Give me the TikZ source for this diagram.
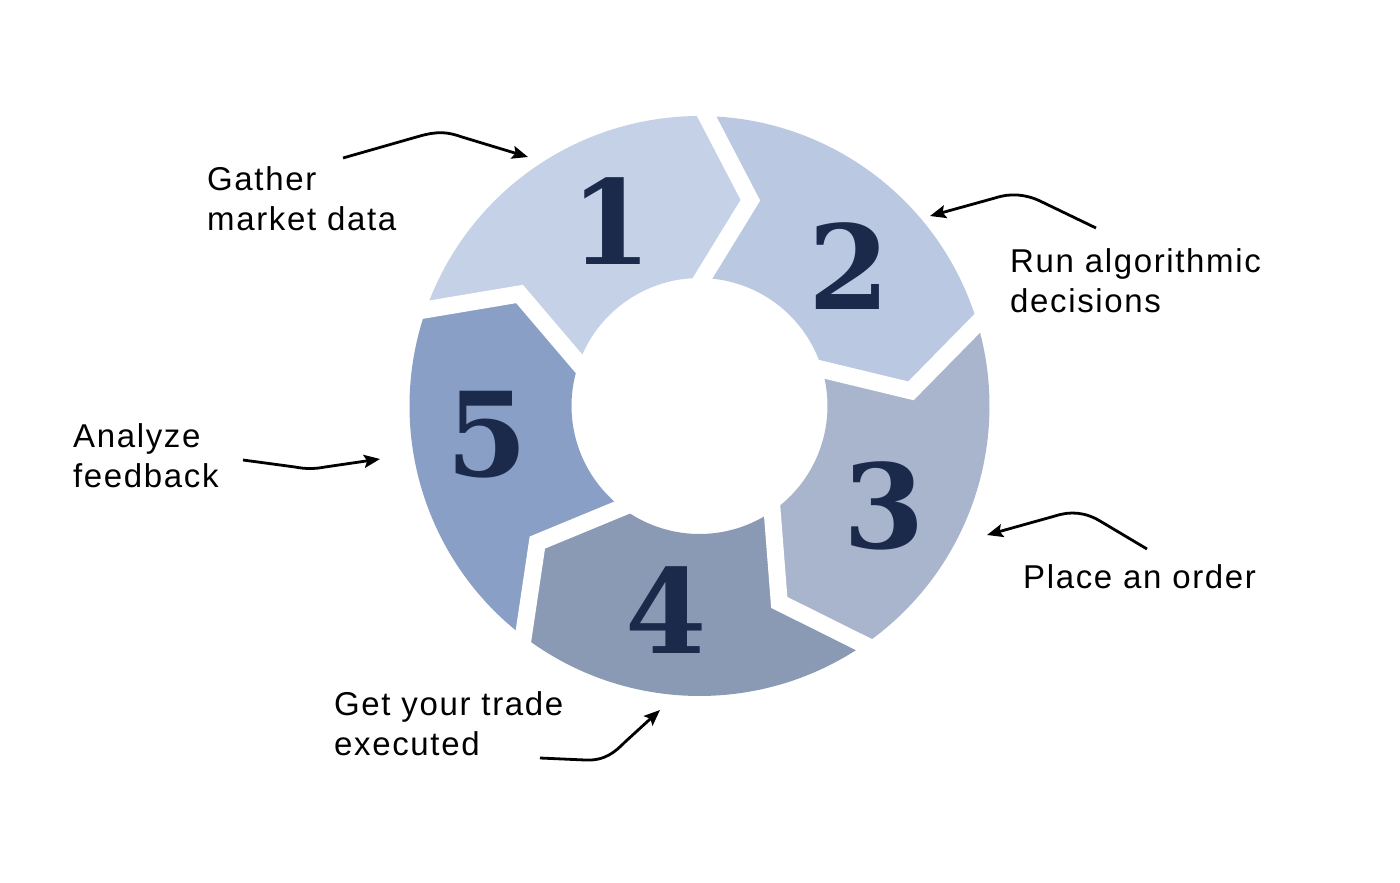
\documentclass[tikz,border=0pt]{standalone}
\usepackage{fontspec}
\setmainfont{Liberation Sans}[LetterSpace=5]
\newfontfamily\numfont{DejaVu Serif}
\usetikzlibrary{arrows.meta,calc}
\definecolor{segA}{HTML}{C5D1E7}
\definecolor{segB}{HTML}{BAC8E2}
\definecolor{segC}{HTML}{A8B5CD}
\definecolor{segD}{HTML}{8A9AB5}
\definecolor{segE}{HTML}{8A9FC5}
\definecolor{numcol}{HTML}{1B2A4B}
\newcommand\ringseg[2]{%
  \fill[#2] (#1:290) arc[start angle=#1, end angle=#1-72, radius=290]
    -- (#1-84.5:212) -- (#1-72:128)
    arc[start angle=#1-72, end angle=#1, radius=128]
    -- (#1-12.5:212) -- cycle;}
\newcommand\ringgap[1]{%
  \draw[white, line width=17pt, line join=miter, miter limit=20]
    ($(#1-12.5:212)!1.25!(#1:290)$) -- (#1-12.5:212) -- ($(#1-12.5:212)!1.2!(#1:128)$);}
\begin{document}
\begin{tikzpicture}[x=1pt,y=-1pt,
  lbl/.style={anchor=base west, align=left, font=\fontsize{33}{40}\selectfont, inner sep=0pt},
  num/.style={font=\numfont\bfseries\fontsize{117}{117}\selectfont, text=numcol, inner sep=0pt},
  pointer/.style={line width=2.8pt, -{Stealth[length=16pt,width=13pt,inset=3pt]}, line join=round}
]
\useasboundingbox[fill=white] (0,0) rectangle (1400,883);
% ring
\begin{scope}[shift={(699.5,406)}, yscale=-1]
  \ringseg{160.6}{segA}
  \ringseg{88.6}{segB}
  \ringseg{16.6}{segC}
  \ringseg{-55.4}{segD}
  \ringseg{-127.4}{segE}
  \ringgap{160.6}
  \ringgap{88.6}
  \ringgap{16.6}
  \ringgap{-55.4}
  \ringgap{-127.4}
\end{scope}
% numbers
\node[num] (n1) at (611,221) {1};
\node[num] (n2) at (849,266) {2};
\node[num] (n3) at (884,506) {3};
\node[num] (n4) at (666,610) {4};
\node[num] (n5) at (487,435) {5};
% labels (anchor = baseline of the last line)
\node[lbl] (t1) at (207,230) {Gather\\market data};
\node[lbl] (t2) at (1010,312) {Run algorithmic\\decisions};
\node[lbl] (t3) at (1023,588) {Place an order};
\node[lbl] (t4) at (334,755) {Get your trade\\executed};
\node[lbl] (t5) at (73,487) {Analyze\\feedback};
% pointer ends
\coordinate (a1s) at (343,158); \coordinate (a1e) at (528,157);
\coordinate (a2s) at (1096,228); \coordinate (a2e) at (930,216);
\coordinate (a3s) at (1147,549); \coordinate (a3e) at (987,535);
\coordinate (a4s) at (540,758); \coordinate (a4e) at (660,710);
\coordinate (a5s) at (243,460); \coordinate (a5e) at (380,459);
\draw[pointer] (a1s) -- (420,136) .. controls (438,131) and (448,132) .. (462,137) -- (a1e);
\draw[pointer] (a2s) -- (1040,201) .. controls (1025,194) and (1010,193) .. (995,198) -- (a2e);
\draw[pointer] (a3s) -- (1100,521) .. controls (1085,512) and (1070,511) .. (1055,516) -- (a3e);
\draw[pointer] (a4s) -- (585,760) .. controls (605,761) and (615,752) .. (625,742) -- (a4e);
\draw[pointer] (a5s) -- (295,467) .. controls (305,469) and (315,469) .. (325,467) -- (a5e);
\end{tikzpicture}
\end{document}
